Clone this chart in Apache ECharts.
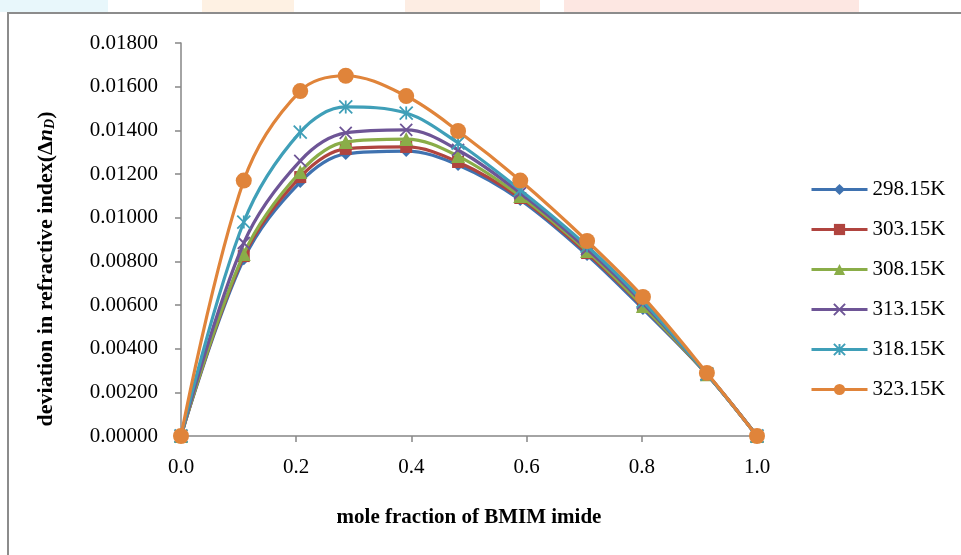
<!DOCTYPE html>
<html>
<head>
<meta charset="utf-8">
<script src="https://cdn.jsdelivr.net/npm/echarts@6/dist/echarts.min.js"></script>
<style>
  html, body { margin: 0; padding: 0; background: #fff; }
  #chart { width: 961px; height: 555px; }
</style>
</head>
<body>
<div id="chart"></div>
<script>
// mole fraction of BMIM imide
const moleFraction = [0, 0.109, 0.207, 0.286, 0.391, 0.481, 0.589, 0.705, 0.802, 0.913, 1.0];

const temps = ["298.15K", "303.15K", "308.15K", "313.15K", "318.15K", "323.15K"];

const dn298 = [0, 0.00810, 0.01163, 0.01292, 0.01305, 0.01241, 0.01081, 0.00829, 0.00582, 0.00282, 0];
const dn303 = [0, 0.00824, 0.01186, 0.01315, 0.01324, 0.01255, 0.01090, 0.00838, 0.00591, 0.00282, 0];
const dn308 = [0, 0.00834, 0.01209, 0.01347, 0.01360, 0.01282, 0.01099, 0.00847, 0.00595, 0.00283, 0];
const dn313 = [0, 0.00884, 0.01260, 0.01388, 0.01402, 0.01310, 0.01113, 0.00856, 0.00609, 0.00284, 0];
const dn318 = [0, 0.00980, 0.01392, 0.01507, 0.01479, 0.01342, 0.01127, 0.00870, 0.00618, 0.00284, 0];
const dn323 = [0, 0.01170, 0.01580, 0.01650, 0.01557, 0.01397, 0.01170, 0.00893, 0.00637, 0.00289, 0];

const yTicks = [0, 0.002, 0.004, 0.006, 0.008, 0.010, 0.012, 0.014, 0.016, 0.018];

const colors = ["#3f72b0", "#b0443f", "#8aad48", "#6e5596", "#3f9fb8", "#e0843a"];
const crossPath = "path://M0,0L10,10M10,0L0,10";
const starPath = "path://M5,0L5,10M0,0L10,10M10,0L0,10";
const symbols = ["diamond", "rect", "triangle", crossPath, starPath, "circle"];
const symbolSizes = [12, 12, 14, 12, 13, 16];
const allSeries = [dn298, dn303, dn308, dn313, dn318, dn323];

const FONT = "'Liberation Serif', 'Times New Roman', serif";

const chart = echarts.init(document.getElementById("chart"));

const series = temps.map((name, i) => {
  const stroked = i === 3 || i === 4;
  return {
    name: name,
    type: "line",
    smooth: 0.35,
    symbol: symbols[i],
    symbolSize: symbolSizes[i],
    showAllSymbol: true,
    lineStyle: { width: 3.2, color: colors[i] },
    itemStyle: stroked
      ? { color: colors[i], borderColor: colors[i], borderWidth: 1.8 }
      : { color: colors[i], borderWidth: 0 },
    emphasis: { disabled: true },
    z: 2 + i,
    data: moleFraction.map((x, k) => [x, allSeries[i][k]]),
  };
});

// faint watermark patches outside the chart frame
const bandRect = (x, w, color) => ({
  type: "rect",
  shape: { x: x, y: 0, width: w, height: 12 },
  style: { fill: color },
  silent: true,
});

const option = {
  animation: false,
  backgroundColor: "#ffffff",
  grid: { left: 181, top: 43, right: 204, bottom: 119 },
  xAxis: {
    type: "value",
    min: 0,
    max: 1,
    interval: 0.2,
    splitLine: { show: false },
    axisLine: { lineStyle: { color: "#868686", width: 1.5 } },
    axisTick: { show: true, length: 6, lineStyle: { color: "#868686", width: 1.5 } },
    axisLabel: {
      margin: 21,
      color: "#000",
      fontFamily: FONT,
      fontSize: 21,
      formatter: (v) => v.toFixed(1),
    },
  },
  yAxis: {
    type: "value",
    min: 0,
    max: yTicks[yTicks.length - 1],
    interval: 0.002,
    splitLine: { show: false },
    axisLine: { show: true, lineStyle: { color: "#868686", width: 1.5 } },
    axisTick: { show: true, length: 6, lineStyle: { color: "#868686", width: 1.5 } },
    axisLabel: {
      margin: 23,
      color: "#000",
      fontFamily: FONT,
      fontSize: 21,
      formatter: (v) => v.toFixed(5),
    },
  },
  legend: {
    orient: "vertical",
    left: 805,
    top: 174,
    itemWidth: 56,
    itemHeight: 14,
    itemGap: 19,
    lineStyle: { width: 3 },
    data: temps,
    textStyle: { color: "#000", fontFamily: FONT, fontSize: 21 },
  },
  graphic: [
    bandRect(0, 108, "#e8f7fb"),
    bandRect(202, 92, "#fef1e3"),
    bandRect(405, 135, "#fdede3"),
    bandRect(564, 295, "#fde7e2"),
    {
      type: "polyline",
      shape: { points: [[8, 555], [8, 13], [961, 13]] },
      style: { stroke: "#8c8c8c", lineWidth: 2, fill: null },
      silent: true,
    },
    {
      type: "text",
      x: 469,
      y: 518,
      style: {
        text: "mole fraction of BMIM imide",
        fill: "#000",
        font: "bold 21px " + FONT,
        align: "center",
        verticalAlign: "middle",
      },
    },
    {
      type: "text",
      x: 46,
      y: 269,
      rotation: Math.PI / 2,
      style: {
        text: "deviation in refractive index(Δ{i|n}{s|D})",
        fill: "#000",
        font: "bold 22px " + FONT,
        align: "center",
        verticalAlign: "middle",
        rich: {
          i: { font: "bold italic 22px " + FONT, fill: "#000" },
          s: { font: "bold italic 14px " + FONT, fill: "#000", verticalAlign: "bottom", padding: [8, 0, 0, 0] },
        },
      },
    },
  ],
  series: series,
};

chart.setOption(option);
</script>
</body>
</html>
